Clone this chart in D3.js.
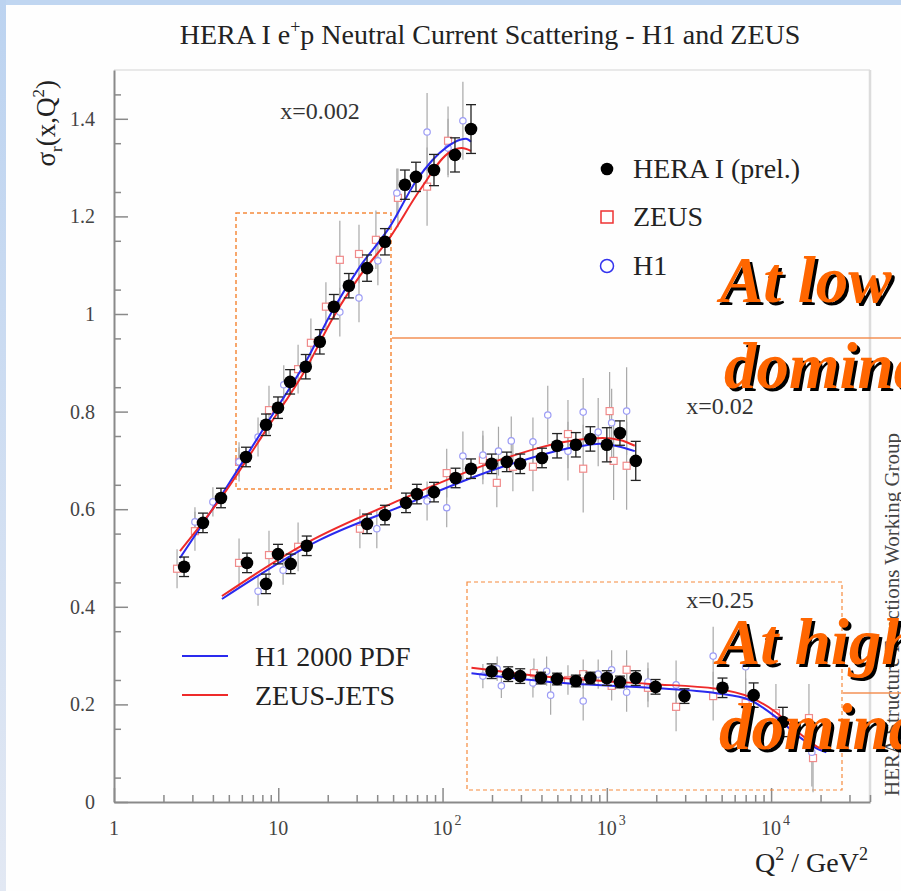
<!DOCTYPE html>
<html><head><meta charset="utf-8">
<script src="https://cdn.jsdelivr.net/npm/d3@7"></script>
<style>
html,body{margin:0;padding:0;background:#fff;}
svg{display:block;}
text{font-family:"Liberation Serif","Times New Roman",serif;}
</style></head>
<body>
<svg id="chart" width="901" height="891"></svg>
<script>
// ---------------- data ----------------
const binLabels = ["x=0.002", "x=0.02", "x=0.25"];
const xTickValues = [1, 10, 100, 1000, 10000];
const xTickLabels = ["1", "10", "10|2", "10|3", "10|4"];
const yTickValues = [0, 0.2, 0.4, 0.6, 0.8, 1.0, 1.2, 1.4];
const yTickLabels = ["0", "0.2", "0.4", "0.6", "0.8", "1", "1.2", "1.4"];

// HERA I (prel.) combined points
const heraQ2_002 = [2.67,3.48,4.48,6.36,8.42,9.96,11.8,14.7,17.9,21.8,26.9,34.7,44.6,59,68.9,88.7,119,149];
const heraSig_002 = [0.482,0.572,0.623,0.707,0.773,0.808,0.861,0.892,0.943,1.015,1.058,1.094,1.148,1.265,1.281,1.295,1.326,1.379];
const heraErr_002 = [0.02,0.02,0.02,0.02,0.022,0.022,0.025,0.025,0.025,0.025,0.025,0.027,0.027,0.03,0.03,0.032,0.035,0.05];

const heraQ2_02 = [6.45,8.42,9.96,11.9,14.9,34.7,44.6,59.9,69.8,88.7,120,149,199,246,297,403,498,648,794,1000,1202,1500];
const heraSig_02 = [0.490,0.447,0.508,0.488,0.525,0.570,0.588,0.613,0.631,0.635,0.664,0.683,0.693,0.697,0.693,0.705,0.730,0.732,0.744,0.732,0.756,0.699];
const heraErr_02 = [0.02,0.02,0.02,0.02,0.02,0.02,0.02,0.02,0.02,0.02,0.02,0.02,0.02,0.02,0.02,0.02,0.025,0.025,0.025,0.035,0.025,0.04];

const heraQ2_25 = [199,251,297,397,498,648,794,1000,1202,1500,1980,2970,5060,7830,11800];
const heraSig_25 = [0.268,0.262,0.258,0.254,0.252,0.248,0.254,0.254,0.246,0.254,0.236,0.217,0.234,0.219,0.164];
const heraErr_25 = [0.015,0.015,0.015,0.012,0.012,0.012,0.012,0.015,0.012,0.015,0.015,0.015,0.02,0.025,0.03];

// ZEUS points
const zeusQ2_002 = [2.42,3.11,5.77,8.78,13.2,15.8,19.5,23.7,31,39.3,53.5,80.5,108];
const zeusSig_002 = [0.478,0.555,0.697,0.803,0.887,0.941,1.015,1.111,1.123,1.152,1.238,1.261,1.355];
const zeusErr_002 = [0.04,0.04,0.04,0.05,0.05,0.05,0.05,0.08,0.06,0.06,0.06,0.08,0.07];

const zeusQ2_02 = [5.77,8.78,13.2,31.4,106,176,214,268,355,580,718,1040,1100,1320];
const zeusSig_02 = [0.490,0.506,0.523,0.560,0.674,0.701,0.654,0.687,0.687,0.754,0.683,0.801,0.699,0.689];
const zeusErr_02 = [0.05,0.05,0.05,0.04,0.05,0.05,0.05,0.05,0.05,0.07,0.09,0.08,0.08,0.09];

const zeusQ2_25 = [360,580,718,1070,1320,1780,2640,4440,7000,10700,17000,18000];
const zeusSig_25 = [0.264,0.250,0.262,0.238,0.271,0.234,0.195,0.217,0.203,0.182,0.172,0.090];
const zeusErr_25 = [0.03,0.03,0.03,0.03,0.04,0.04,0.05,0.05,0.05,0.06,0.07,0.07];

// H1 points
const h1Q2_002 = [3.11,4.0,5.77,7.53,10.8,23.7,31,40.4,52.7,80.5,108,133];
const h1Sig_002 = [0.574,0.615,0.697,0.748,0.855,1.004,1.033,1.109,1.248,1.373,1.34,1.396];
const h1Err_002 = [0.03,0.03,0.03,0.04,0.04,0.05,0.05,0.05,0.05,0.08,0.06,0.08];

const h1Q2_02 = [7.53,10.7,39.8,80.5,106,133,176,219,262,355,437,580,718,886,1070,1320];
const h1Sig_02 = [0.432,0.475,0.560,0.617,0.603,0.709,0.711,0.719,0.740,0.738,0.793,0.719,0.799,0.758,0.777,0.801];
const h1Err_02 = [0.03,0.03,0.04,0.04,0.04,0.05,0.05,0.05,0.05,0.05,0.06,0.06,0.07,0.07,0.07,0.09];

const h1Q2_25 = [176,215,228,355,430,455,718,886,1070,1320,1780,2640,4440,7000,17700];
const h1Sig_25 = [0.258,0.273,0.238,0.244,0.268,0.219,0.207,0.262,0.271,0.225,0.246,0.240,0.299,0.277,0.102];
const h1Err_25 = [0.025,0.025,0.025,0.03,0.03,0.04,0.04,0.03,0.04,0.04,0.04,0.05,0.06,0.06,0.07];

// Theory curves
const h1pdfQ2_002 = [2.52,4.48,8.42,14.7,21.5,31.4,47.6,69.8,106,128,139,149];
const h1pdfSig_002 = [0.500,0.627,0.773,0.902,1.008,1.097,1.178,1.275,1.342,1.357,1.359,1.353];
const zjQ2_002 = [2.52,4.48,8.42,14.7,21.5,31.4,47.6,72.8,111,131,149];
const zjSig_002 = [0.514,0.623,0.762,0.887,0.992,1.078,1.156,1.254,1.332,1.340,1.334];

const h1pdfQ2_02 = [4.54,14.9,17.9,55.2,223,658,909,1202,1480];
const h1pdfSig_02 = [0.416,0.523,0.537,0.605,0.685,0.728,0.734,0.728,0.719];
const zjQ2_02 = [4.54,14.9,55.2,223,658,945,1202,1480];
const zjSig_02 = [0.422,0.531,0.619,0.701,0.742,0.746,0.742,0.730];

const h1pdfQ2_25 = [150,450,1820,4650,7400,10700,14900,19700,21700];
const h1pdfSig_25 = [0.264,0.246,0.234,0.223,0.209,0.174,0.133,0.107,0.102];
const zjQ2_25 = [150,450,1820,4650,7400,10700,14900,19700,21700];
const zjSig_25 = [0.275,0.256,0.242,0.232,0.215,0.184,0.141,0.111,0.107];

// ---------------- build ----------------
(function () {
const zip = (q, s, e) => q.map((d, i) => ({q: d, s: s[i], e: e ? e[i] : 0}));
const hera = [zip(heraQ2_002, heraSig_002, heraErr_002), zip(heraQ2_02, heraSig_02, heraErr_02), zip(heraQ2_25, heraSig_25, heraErr_25)].flat();
const zeus = [zip(zeusQ2_002, zeusSig_002, zeusErr_002), zip(zeusQ2_02, zeusSig_02, zeusErr_02), zip(zeusQ2_25, zeusSig_25, zeusErr_25)].flat();
const h1 = [zip(h1Q2_002, h1Sig_002, h1Err_002), zip(h1Q2_02, h1Sig_02, h1Err_02), zip(h1Q2_25, h1Sig_25, h1Err_25)].flat();
const blueCurves = [zip(h1pdfQ2_002, h1pdfSig_002), zip(h1pdfQ2_02, h1pdfSig_02), zip(h1pdfQ2_25, h1pdfSig_25)];
const redCurves = [zip(zjQ2_002, zjSig_002), zip(zjQ2_02, zjSig_02), zip(zjQ2_25, zjSig_25)];

const svg = d3.select("#chart");
const W = 901, H = 891;
const pL = 114, pR = 870, pT = 70, pB = 802;

const x = d3.scaleLog().domain([1, 40000]).range([pL, pR]);
const y = d3.scaleLinear().domain([0, 1.5]).range([pB, pT]);

// slide background
svg.append("rect").attr("x", 0).attr("y", 0).attr("width", W).attr("height", H).attr("fill", "#fefefe");
const defs = svg.append("defs");
const grad = defs.append("linearGradient").attr("id", "lg").attr("x1", 0).attr("y1", 0).attr("x2", 0).attr("y2", 1);
grad.append("stop").attr("offset", "0%").attr("stop-color", "#bcd3f0");
grad.append("stop").attr("offset", "100%").attr("stop-color", "#e2e8f3");
svg.append("rect").attr("x", 0).attr("y", 0).attr("width", W).attr("height", 5).attr("fill", "#c0d6f1");
svg.append("rect").attr("x", 0).attr("y", 0).attr("width", 6).attr("height", H).attr("fill", "url(#lg)");

// title
const title = svg.append("text").attr("x", 490).attr("y", 44).attr("text-anchor", "middle")
  .attr("font-size", 28).attr("fill", "#222");
title.append("tspan").text("HERA I e");
title.append("tspan").attr("dy", -11).attr("font-size", 18).text("+");
title.append("tspan").attr("dy", 11).text("p Neutral Current Scattering - H1 and ZEUS");

// frame (faint)
svg.append("line").attr("x1", pL).attr("x2", pR).attr("y1", pT).attr("y2", pT).attr("stroke", "#e2e2e2").attr("stroke-width", 1.5);
svg.append("line").attr("x1", pR).attr("x2", pR).attr("y1", pT).attr("y2", pB).attr("stroke", "#dcdcdc").attr("stroke-width", 2.5);

// axes
const axisColor = "#8a8a8a";
const minorX = [];
for (let e = 0; e <= 4; e++) for (let m = 2; m <= 9; m++) { const v = m * Math.pow(10, e); if (v <= 40000) minorX.push(v); }
const minorY = d3.range(0.05, 1.5, 0.1).map(v => +v.toFixed(2));

const gx = svg.append("g").attr("transform", `translate(0,${pB})`);
gx.call(d3.axisBottom(x).tickValues(xTickValues).tickSize(-14).tickSizeOuter(0).tickFormat(""));
const gxm = svg.append("g").attr("transform", `translate(0,${pB})`);
gxm.call(d3.axisBottom(x).tickValues(minorX).tickSize(-7).tickSizeOuter(0).tickFormat(""));
gxm.select(".domain").remove();

const gy = svg.append("g").attr("transform", `translate(${pL},0)`);
gy.call(d3.axisLeft(y).tickValues(yTickValues).tickSize(-14).tickSizeOuter(0).tickPadding(19)
  .tickFormat((d, i) => yTickLabels[i]));
const gym = svg.append("g").attr("transform", `translate(${pL},0)`);
gym.call(d3.axisLeft(y).tickValues(minorY).tickSize(-7).tickSizeOuter(0).tickFormat(""));
gym.select(".domain").remove();

svg.selectAll(".domain").attr("stroke", axisColor).attr("stroke-width", 2);
svg.selectAll(".tick line").attr("stroke", axisColor).attr("stroke-width", 1.5);
gy.selectAll(".tick text").attr("font-family", "Liberation Serif, serif").attr("font-size", 20).attr("fill", "#444");

// x tick labels with superscripts
xTickValues.forEach((v, i) => {
  const parts = xTickLabels[i].split("|");
  svg.append("text").attr("x", x(v)).attr("y", 835).attr("text-anchor", "middle")
    .attr("font-size", 20).attr("fill", "#444").text(parts[0]);
  if (parts[1]) {
    svg.append("text").attr("x", x(v) + 12).attr("y", 825).attr("font-size", 14).attr("fill", "#444").text(parts[1]);
  }
});

// axis titles
const xt = svg.append("text").attr("x", 868).attr("y", 872).attr("text-anchor", "end").attr("font-size", 28).attr("fill", "#222");
xt.append("tspan").text("Q");
xt.append("tspan").attr("dy", -12).attr("font-size", 18).text("2");
xt.append("tspan").attr("dy", 12).text(" / GeV");
xt.append("tspan").attr("dy", -12).attr("font-size", 18).text("2");

const yt = svg.append("text").attr("transform", "translate(55,80) rotate(-90)").attr("text-anchor", "end")
  .attr("font-size", 27).attr("fill", "#222");
yt.append("tspan").text("σ");
yt.append("tspan").attr("dy", 7).attr("font-size", 17).text("r");
yt.append("tspan").attr("dy", -7).text("(x,Q");
yt.append("tspan").attr("dy", -11).attr("font-size", 17).text("2");
yt.append("tspan").attr("dy", 11).text(")");

// dashed orange boxes (slide annotations)
const boxColor = "#f58a3c";
svg.append("rect").attr("x", 236).attr("y", 213).attr("width", 155).attr("height", 276)
  .attr("fill", "none").attr("stroke", boxColor).attr("stroke-width", 1.5).attr("stroke-dasharray", "4,3");
svg.append("rect").attr("x", 467).attr("y", 582).attr("width", 375).attr("height", 208)
  .attr("fill", "none").attr("stroke", boxColor).attr("stroke-width", 1.2).attr("stroke-dasharray", "4,3");

// bin labels
[[320, 119], [720, 414], [720, 608]].forEach((p, i) => {
  svg.append("text").attr("x", p[0]).attr("y", p[1]).attr("text-anchor", "middle").attr("font-size", 24).attr("fill", "#333").text(binLabels[i]);
});

// faint error bars for ZEUS & H1
const plot = svg.append("g");
plot.selectAll("line.fe").data(zeus.concat(h1)).join("line").attr("class", "fe")
  .attr("x1", d => x(d.q)).attr("x2", d => x(d.q))
  .attr("y1", d => y(d.s - d.e)).attr("y2", d => y(d.s + d.e))
  .attr("stroke", "#a8a8a8").attr("stroke-width", 1.2);

// ZEUS squares
plot.selectAll("rect.zeus").data(zeus).join("rect").attr("class", "zeus")
  .attr("x", d => x(d.q) - 3.5).attr("y", d => y(d.s) - 3.5).attr("width", 7).attr("height", 7)
  .attr("fill", "#fff").attr("stroke", "#f08a8a").attr("stroke-width", 1.2);

// H1 circles
plot.selectAll("circle.h1").data(h1).join("circle").attr("class", "h1")
  .attr("cx", d => x(d.q)).attr("cy", d => y(d.s)).attr("r", 3.2)
  .attr("fill", "#fff").attr("stroke", "#9c9cf5").attr("stroke-width", 1.2);

// curves
const line = d3.line().x(d => x(d.q)).y(d => y(d.s)).curve(d3.curveMonotoneX);
blueCurves.forEach(c => plot.append("path").datum(c).attr("d", line).attr("fill", "none").attr("stroke", "#2a2aee").attr("stroke-width", 2));
redCurves.forEach(c => plot.append("path").datum(c).attr("d", line).attr("fill", "none").attr("stroke", "#ee2a2a").attr("stroke-width", 2));

// HERA points with error bars
const hg = plot.selectAll("g.hera").data(hera).join("g").attr("class", "hera");
hg.append("line").attr("x1", d => x(d.q)).attr("x2", d => x(d.q))
  .attr("y1", d => y(d.s - d.e)).attr("y2", d => y(d.s + d.e)).attr("stroke", "#222").attr("stroke-width", 1.3);
hg.append("line").attr("x1", d => x(d.q) - 5).attr("x2", d => x(d.q) + 5)
  .attr("y1", d => y(d.s - d.e)).attr("y2", d => y(d.s - d.e)).attr("stroke", "#222").attr("stroke-width", 1.3);
hg.append("line").attr("x1", d => x(d.q) - 5).attr("x2", d => x(d.q) + 5)
  .attr("y1", d => y(d.s + d.e)).attr("y2", d => y(d.s + d.e)).attr("stroke", "#222").attr("stroke-width", 1.3);
hg.append("circle").attr("cx", d => x(d.q)).attr("cy", d => y(d.s)).attr("r", 6.3).attr("fill", "#000");

// legend (markers)
svg.append("circle").attr("cx", 607).attr("cy", 169).attr("r", 6.3).attr("fill", "#000");
svg.append("rect").attr("x", 601).attr("y", 211).attr("width", 12).attr("height", 12).attr("fill", "#fff").attr("stroke", "#e33").attr("stroke-width", 1.5);
svg.append("circle").attr("cx", 607).attr("cy", 266).attr("r", 6.5).attr("fill", "#fff").attr("stroke", "#33e").attr("stroke-width", 1.5);
[["HERA I (prel.)", 178], ["ZEUS", 226], ["H1", 275]].forEach(d => {
  svg.append("text").attr("x", 633).attr("y", d[1]).attr("font-size", 28).attr("fill", "#222").text(d[0]);
});
// legend (curves)
svg.append("line").attr("x1", 182).attr("x2", 228).attr("y1", 656).attr("y2", 656).attr("stroke", "#2a2aee").attr("stroke-width", 2);
svg.append("line").attr("x1", 182).attr("x2", 228).attr("y1", 695).attr("y2", 695).attr("stroke", "#ee2a2a").attr("stroke-width", 2);
svg.append("text").attr("x", 255).attr("y", 666).attr("font-size", 28).attr("fill", "#222").text("H1 2000 PDF");
svg.append("text").attr("x", 255).attr("y", 705).attr("font-size", 28).attr("fill", "#222").text("ZEUS-JETS");

// vertical credit
svg.append("text").attr("transform", "translate(899,796) rotate(-90)").attr("font-size", 21).attr("fill", "#444")
  .text("HERA Structure Functions Working Group");

// orange callout lines
svg.append("line").attr("x1", 392).attr("x2", 901).attr("y1", 338).attr("y2", 338).attr("stroke", "#f39055").attr("stroke-width", 1.5);
svg.append("line").attr("x1", 843).attr("x2", 901).attr("y1", 693).attr("y2", 693).attr("stroke", "#f39055").attr("stroke-width", 1.5);

// big overlay text
const big = [["At low", 720, 302], ["dominated", 724, 388], ["At high", 717, 664], ["dominated", 719, 749]];
big.forEach(b => {
  svg.append("text").attr("x", b[1] + 3).attr("y", b[2] + 3).attr("font-size", 65).attr("font-style", "italic")
    .attr("font-weight", "bold").attr("fill", "#000").text(b[0]);
  svg.append("text").attr("x", b[1]).attr("y", b[2]).attr("font-size", 65).attr("font-style", "italic")
    .attr("font-weight", "bold").attr("fill", "#ff6600").text(b[0]);
});
})();
</script>
</body></html>
